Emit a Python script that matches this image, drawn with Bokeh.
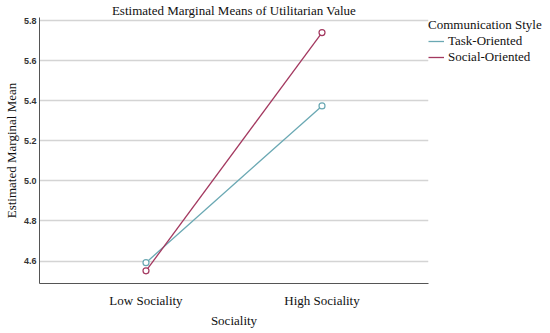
from bokeh.plotting import figure
from bokeh.models import FactorRange, Range1d, Legend, LegendItem, FixedTicker, ColumnDataSource
from bokeh.embed import file_html
from bokeh.resources import INLINE

categories = ["Low Sociality", "High Sociality"]
task_oriented = [4.592, 5.374]
social_oriented = [4.551, 5.740]
y_ticks = [4.6, 4.8, 5.0, 5.2, 5.4, 5.6, 5.8]

TASK_COLOR = "#6aa8b3"
SOCIAL_COLOR = "#a3385f"
SERIF = "Liberation Serif"

p = figure(frame_width=389, frame_height=266, output_backend="svg", toolbar_location=None,
           x_range=FactorRange(*categories, range_padding=0.105),
           y_range=Range1d(4.488, 5.815),
           title="Estimated Marginal Means of Utilitarian Value")
p.title.align = "center"
p.title.text_font = SERIF
p.title.text_font_size = "13px"
p.title.text_font_style = "normal"
p.title.text_color = "#111111"
p.title.standoff = 0
p.title.offset = 0

p.min_border_left = 0
p.min_border_top = 0
p.min_border_bottom = 0
p.min_border_right = 0
p.outline_line_color = None

src_t = ColumnDataSource(dict(x=categories, y=task_oriented))
src_s = ColumnDataSource(dict(x=categories, y=social_oriented))

r_t = p.line("x", "y", source=src_t, line_color=TASK_COLOR, line_width=1.3)
r_s = p.line("x", "y", source=src_s, line_color=SOCIAL_COLOR, line_width=1.3)
p.scatter("x", "y", source=src_t, marker="circle", size=6, fill_color="white",
          line_color=TASK_COLOR, line_width=1.2)
p.scatter("x", "y", source=src_s, marker="circle", size=6, fill_color="white",
          line_color=SOCIAL_COLOR, line_width=1.2)

# axes
p.yaxis.ticker = FixedTicker(ticks=y_ticks)
p.yaxis.major_label_overrides = {t: f"{t:.1f}" for t in y_ticks}
p.yaxis.major_label_text_font = "Liberation Sans"
p.yaxis.major_label_text_font_size = "9px"
p.yaxis.major_label_text_font_style = "bold"
p.yaxis.major_label_text_color = "#333333"
p.yaxis.major_tick_line_color = None
p.yaxis.minor_tick_line_color = None
p.yaxis.major_tick_out = 0
p.yaxis.major_tick_in = 0
p.yaxis.axis_line_color = "#555555"
p.yaxis.axis_label = "Estimated Marginal Mean"
p.yaxis.axis_label_text_font = SERIF
p.yaxis.axis_label_text_font_size = "13px"
p.yaxis.axis_label_text_font_style = "normal"
p.yaxis.axis_label_text_color = "#111111"
p.yaxis.axis_label_standoff = 2
p.yaxis.major_label_standoff = 3

p.xaxis.major_label_text_font = SERIF
p.xaxis.major_label_text_font_size = "13px"
p.xaxis.major_label_text_color = "#111111"
p.xaxis.major_tick_line_color = None
p.xaxis.major_tick_out = 0
p.xaxis.major_tick_in = 0
p.xaxis.axis_line_color = "#555555"
p.xaxis.major_label_standoff = 9
p.xaxis.axis_label = "Sociality"
p.xaxis.axis_label_text_font = SERIF
p.xaxis.axis_label_text_font_size = "13px"
p.xaxis.axis_label_text_font_style = "normal"
p.xaxis.axis_label_text_color = "#111111"
p.xaxis.axis_label_standoff = 2

p.xgrid.grid_line_color = None
p.ygrid.grid_line_color = "#d4d4d4"
p.ygrid.grid_line_width = 1.5

legend = Legend(items=[LegendItem(label="Task-Oriented", renderers=[r_t]),
                       LegendItem(label="Social-Oriented", renderers=[r_s])],
                title="Communication Style", location="top_left")
legend.title_text_font = SERIF
legend.title_text_font_size = "13px"
legend.title_text_font_style = "normal"
legend.title_text_color = "#111111"
legend.title_standoff = 0
legend.label_text_font = SERIF
legend.label_text_font_size = "13px"
legend.label_text_color = "#111111"
legend.glyph_width = 16
legend.glyph_height = 12
legend.label_standoff = 4
legend.label_height = 12
legend.spacing = 0
legend.padding = 1
legend.margin = 0
legend.border_line_color = None
legend.background_fill_alpha = 0
p.add_layout(legend, "right")

open("out.html", "w").write(file_html(p, INLINE))
